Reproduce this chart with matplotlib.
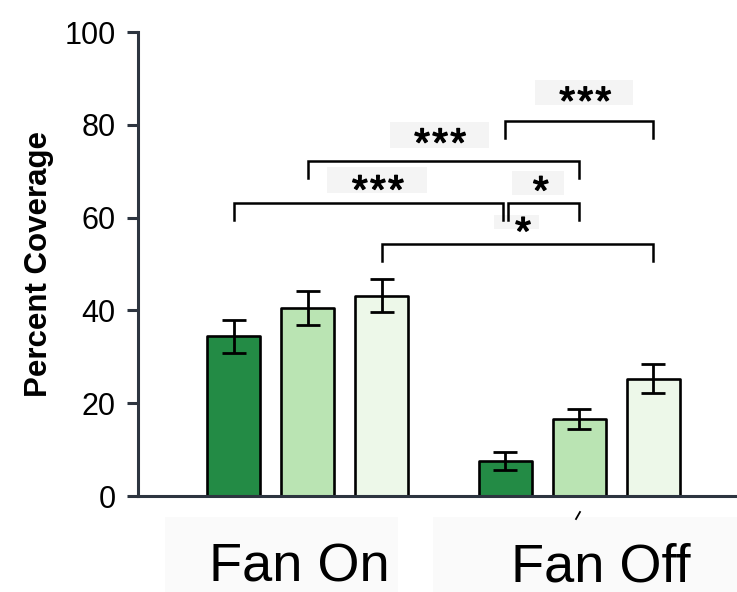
import numpy as np
import matplotlib.pyplot as plt
import matplotlib.patheffects as pe
from matplotlib.patches import Rectangle
from matplotlib.lines import Line2D

plt.rcParams['font.family'] = ['Liberation Sans', 'DejaVu Sans']

# Coverage (%) per condition, three treatments in each group
groups = ["Fan On", "Fan Off"]
fan_on_mean = [34.4, 40.5, 43.2]
fan_on_err = [3.5, 3.6, 3.6]
fan_off_mean = [7.6, 16.6, 25.3]
fan_off_err = [1.9, 2.2, 3.2]
bar_colors = ["#238b45", "#bae4b3", "#edf8e9"]

# significance brackets: (left bar, right bar, height, label)
brackets = [
    (3, 5, 80.9, "***"),
    (1, 4, 72.3, "***"),
    (0, 3, 63.2, "***"),
    (3, 4, 63.2, "*"),
    (2, 5, 54.4, "*"),
]

W, H = 737, 592
fig = plt.figure(figsize=(W / 100, H / 100), dpi=100)
ax = fig.add_axes([138 / W, 1 - 496 / H, 1 - 138 / W, (496 - 32) / H])

x = np.array([0, 1, 2, 3.67, 4.67, 5.67])
means = fan_on_mean + fan_off_mean
errs = fan_on_err + fan_off_err
colors = bar_colors * 2

bars = ax.bar(x, means, width=0.71, color=colors, edgecolor="black",
              linewidth=1.9, zorder=2)
for b in bars:
    b.set_joinstyle("round")
ax.errorbar(x, means, yerr=errs, fmt="none", ecolor="black", elinewidth=2.0,
            capsize=8.3, capthick=2.0, zorder=3)

ax.set_xlim(-1.29, 6.80)
ax.set_ylim(0, 100)
ax.set_yticks([0, 20, 40, 60, 80, 100])
ax.set_xticks([])
axis_col = "#2d3540"
for s in ["top", "right"]:
    ax.spines[s].set_visible(False)
for s in ["left", "bottom"]:
    ax.spines[s].set_color(axis_col)
    ax.spines[s].set_linewidth(2.2)
ax.tick_params(axis="y", length=8, width=2.2, color=axis_col,
               labelsize=22, pad=8)
ax.set_ylabel("Percent Coverage", fontsize=22.5, fontweight="bold")
ax.yaxis.set_label_coords(-0.140, 0.5)

# faint boxes behind the star labels (data coords: x0, x1, y0, y1)
star_boxes = [(4.07, 5.40, 84.3, 89.7), (2.11, 3.45, 75.1, 80.7),
              (1.26, 2.61, 65.2, 70.9), (3.76, 4.46, 64.9, 70.1),
              (3.52, 4.13, 57.5, 60.6)]
for x0, x1, y0, y1 in star_boxes:
    ax.add_patch(Rectangle((x0, y0), x1 - x0, y1 - y0, facecolor="#f4f4f4",
                           edgecolor="none", zorder=1))

label_pos = [(4.75, 84.6), (2.79, 75.6), (1.95, 65.5), (4.15, 65.3), (3.91, 56.5)]
ends = [(0.0, 0.0), (0.0, 0.0), (0.0, -0.035), (0.04, 0.0), (0.0, 0.0)]
thick = [pe.withStroke(linewidth=1.0, foreground="black")]
star_pitch = 13  # points between neighbouring stars
for (i, j, h, lab), (tx, ty), (dl, dr) in zip(brackets, label_pos, ends):
    xl, xr = x[i] + dl, x[j] + dr
    ax.plot([xl, xl, xr, xr], [h - 3.8, h, h, h - 3.8], color="black",
            lw=1.8, solid_joinstyle="miter", zorder=4, clip_on=False)
    n = len(lab)
    for k, ch in enumerate(lab):
        ax.annotate(ch, (tx, ty), xytext=((k - (n - 1) / 2) * star_pitch, 0),
                    textcoords="offset points", ha="center", va="center",
                    fontsize=29, path_effects=thick, zorder=5)

# group labels below the axis
fig.add_artist(Rectangle((165 / W, 0), (398 - 165) / W, 1 - 517 / H,
                         transform=fig.transFigure, facecolor="#fafafa",
                         edgecolor="none", zorder=0))
fig.add_artist(Rectangle((433 / W, 0), (W - 433) / W, 1 - 517 / H,
                         transform=fig.transFigure, facecolor="#fafafa",
                         edgecolor="none", zorder=0))
fig.text(299 / W, 1 - 582 / H, groups[0], ha="center", va="baseline", fontsize=39)
fig.text(601 / W, 1 - 582 / H, groups[1], ha="center", va="baseline", fontsize=39)
fig.add_artist(Line2D([576 / W, 580 / W], [1 - 519 / H, 1 - 512 / H],
                      transform=fig.transFigure, color="black", lw=1.3))

fig.savefig("out.png", dpi=100)
